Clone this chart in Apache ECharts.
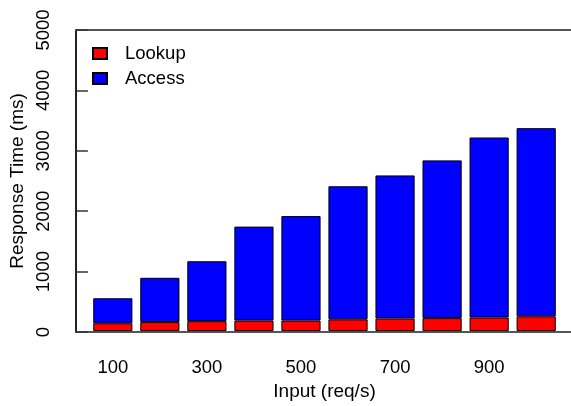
<!DOCTYPE html>
<html>
<head>
<meta charset="utf-8">
<script src="https://cdn.jsdelivr.net/npm/echarts@6/dist/echarts.min.js"></script>
<style>html,body{margin:0;padding:0;background:#fff;}#c{width:571px;height:406px;}</style>
</head>
<body>
<div id="c"></div>
<script>
var categories = ['100','200','300','400','500','600','700','800','900','1000'];
var lookup = [130, 150, 165, 175, 175, 195, 210, 215, 225, 245];
var access = [415, 735, 995, 1560, 1735, 2210, 2375, 2620, 2990, 3125];
var yTicks = [0, 1000, 2000, 3000, 4000, 5000];

var FONT = 'Liberation Sans, Arial, sans-serif';
var chart = echarts.init(document.getElementById('c'), null, {renderer: 'canvas'});
chart.setOption({
  animation: false,
  backgroundColor: '#ffffff',
  legend: {
    left: 92, top: 44, orient: 'vertical', padding: 0,
    itemWidth: 14, itemHeight: 11, itemGap: 6,
    icon: 'rect',
    textStyle: {fontFamily: FONT, fontSize: 18.5, color: '#000', lineHeight: 18, padding: [0,0,0,13]},
    data: ['Lookup', 'Access']
  },
  grid: [
    {left: 74, right: -4, top: 30, bottom: 74},
    {left: 89.3, right: 11.3, top: 30, bottom: 74}
  ],
  xAxis: [
    {type: 'value', gridIndex: 0, min: 0, max: 1, position: 'bottom',
     axisLine: {show: true, lineStyle: {color: '#555', width: 2}},
     axisTick: {show: false}, axisLabel: {show: false}, splitLine: {show: false}},
    {type: 'value', gridIndex: 0, min: 0, max: 1, position: 'top',
     axisLine: {show: true, lineStyle: {color: '#555', width: 2}},
     axisTick: {show: false}, axisLabel: {show: false}, splitLine: {show: false}},
    {type: 'category', gridIndex: 1, data: categories,
     axisLine: {show: false}, axisTick: {show: false},
     axisLabel: {interval: 1, margin: 27, fontFamily: FONT, fontSize: 18.5, color: '#000'},
     name: 'Input (req/s)', nameLocation: 'middle', nameGap: 47,
     nameTextStyle: {fontFamily: FONT, fontSize: 19, color: '#000'}}
  ],
  yAxis: [
    {type: 'value', gridIndex: 0, min: yTicks[0], max: yTicks[yTicks.length-1], interval: 1000,
     axisLine: {show: true, lineStyle: {color: '#222', width: 2}},
     axisTick: {show: true, inside: true, length: 12, lineStyle: {color: '#333', width: 1.5}},
     axisLabel: {rotate: 90, margin: 22, fontFamily: FONT, fontSize: 18.5, color: '#000',
                 formatter: function (v) { return String(v); }},
     splitLine: {show: false},
     name: 'Response Time (ms)', nameLocation: 'middle', nameGap: 48, nameRotate: 90,
     nameTextStyle: {fontFamily: FONT, fontSize: 19, color: '#000'}},
    {type: 'value', gridIndex: 1, min: 0, max: 5000, show: false}
  ],
  series: [
    {name: 'Lookup', type: 'bar', stack: 't', xAxisIndex: 2, yAxisIndex: 1,
     barCategoryGap: '16.7%', data: lookup,
     itemStyle: {color: '#ff0000', borderColor: '#000', borderWidth: 1}},
    {name: 'Access', type: 'bar', stack: 't', xAxisIndex: 2, yAxisIndex: 1,
     barCategoryGap: '16.7%', data: access,
     itemStyle: {color: '#0000ff', borderColor: '#000', borderWidth: 1}}
  ]
});
</script>
</body>
</html>
